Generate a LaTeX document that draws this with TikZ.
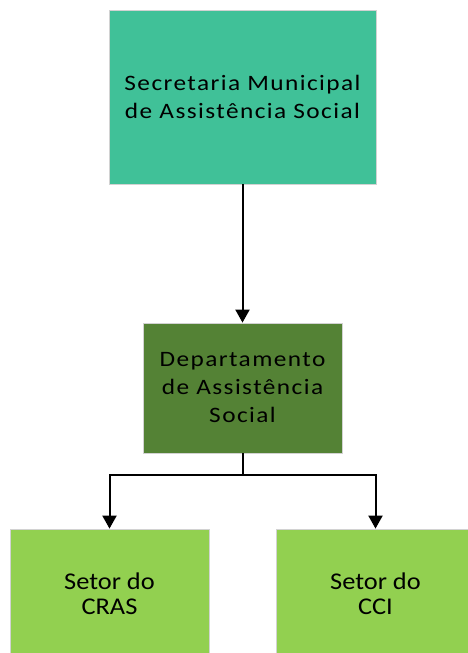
\documentclass[tikz,border=0pt]{standalone}
\usepackage{fontspec}
\setmainfont{Carlito}
\newfontfamily\widefont[FakeStretch=1.15,LetterSpace=6.5]{Carlito}
\newfontfamily\setorfont[FakeStretch=1.1]{Carlito}
\usetikzlibrary{arrows.meta}
\definecolor{secgreen}{HTML}{40C198}
\definecolor{depgreen}{HTML}{548235}
\definecolor{setgreen}{HTML}{92D050}
\begin{document}
\begin{tikzpicture}[x=1pt,y=-1pt,
	box/.style={draw=gray!35, line width=0.8pt, align=center, inner sep=0pt,
		font=\widefont\fontsize{22}{28}\selectfont},
	sector/.style={box, fill=setgreen, minimum width=199pt, minimum height=130pt,
		font=\setorfont\fontsize{24}{25}\selectfont},
	link/.style={line width=2pt},
	arrow/.style={link, -{Triangle[width=14pt,length=13pt]}}]
	\useasboundingbox (0,0) rectangle (467,653);
	\node[box, fill=secgreen, minimum width=267pt, minimum height=174pt] (sec) at (242.5,97) {Secretaria Municipal\\de Assistência Social};
	\node[box, fill=depgreen, minimum width=199pt, minimum height=130pt] (dep) at (242.5,388) {Departamento\\de Assistência\\Social};
	\node[sector] (cras) at (109.5,594) {Setor do\\CRAS};
	\node[sector] (cci) at (375.5,594) {Setor do\\CCI};
	\draw[arrow] (sec) -- (dep);
	\draw[link] (dep.south) -- ++(0,22) coordinate (split);
	\foreach \n in {cras,cci}{
		\draw[arrow] (split) -| (\n.north);
		};
\end{tikzpicture}
\end{document}
